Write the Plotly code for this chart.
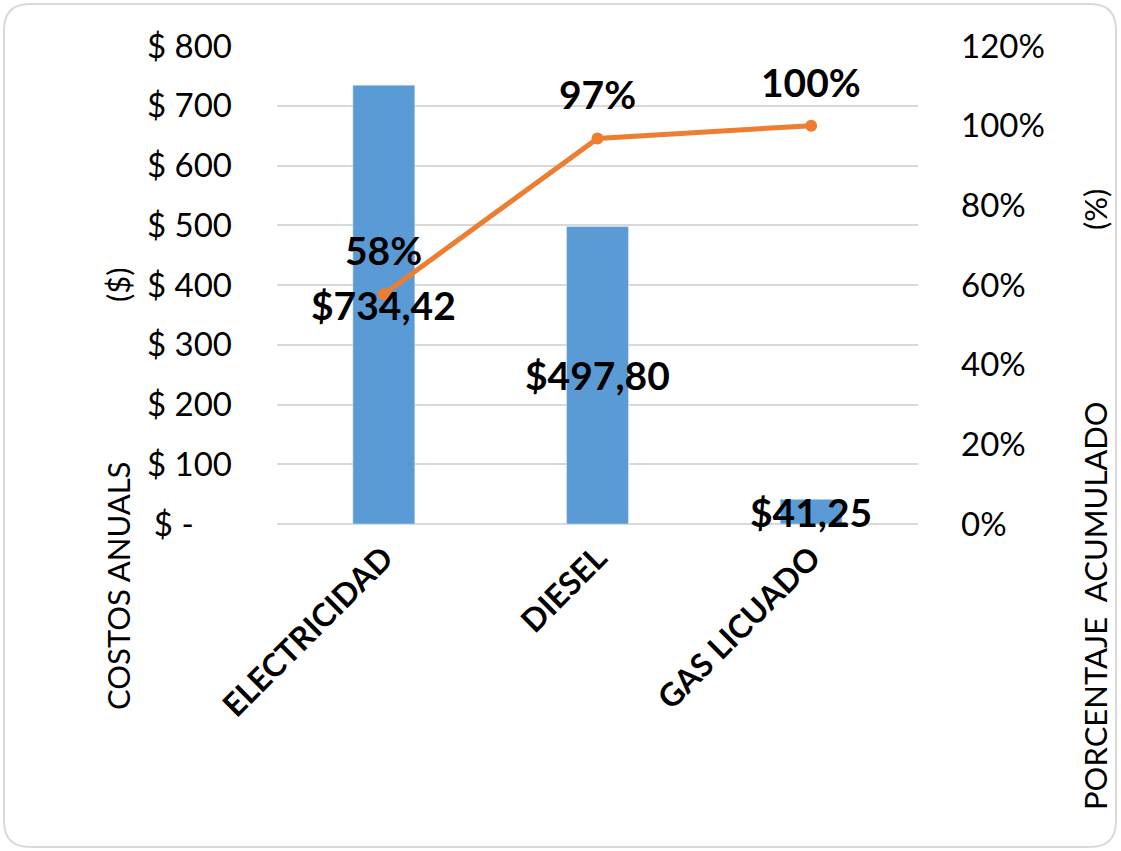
import plotly.graph_objects as go

# ---- data ----
categories = ["ELECTRICIDAD", "DIESEL", "GAS LICUADO"]
costs = [734.42, 497.80, 41.25]            # COSTOS ANUALES ($)
cum_pct = [57.7, 96.8, 100.0]              # porcentaje acumulado (%)
pct_labels = ["58%", "97%", "100%"]
left_tickvals = [0, 100, 200, 300, 400, 500, 600, 700, 800]
left_ticktext = ["$ -\u2007\u2007", "$ 100", "$ 200", "$ 300", "$ 400",
                 "$ 500", "$ 600", "$ 700", "$ 800"]
right_tickvals = [0, 20, 40, 60, 80, 100, 120]
right_ticktext = ["0%", "20%", "40%", "60%", "80%", "100%", "120%"]

BAR = "#5B9BD5"
LINE = "#ED7D31"
GRID = "#D9D9D9"
FONT = "Lato"

W, H = 1121, 851
L, R, T, B = 277, 203, 46, 327
PW, PH = W - L - R, H - T - B


def px(x):
    return (x - L) / PW


def py(y):
    return (H - B - y) / PH


fig = go.Figure()
fig.add_trace(go.Bar(x=categories, y=costs, marker_color=BAR, width=0.29,
                     name="Costos", yaxis="y"))
fig.add_trace(go.Scatter(x=categories, y=cum_pct, mode="lines+markers",
                         line=dict(color=LINE, width=5),
                         marker=dict(color=LINE, size=12),
                         name="% acumulado", yaxis="y2"))

annotations = []
for c, v in zip(categories, costs):
    annotations.append(dict(x=c, y=v / 2, xref="x", yref="y",
                            text=("$%.2f" % v).replace(".", ","),
                            showarrow=False,
                            font=dict(family=FONT, size=39, color="black",
                                      weight="bold")))
for c, p, t in zip(categories, cum_pct, pct_labels):
    annotations.append(dict(x=c, y=p, xref="x", yref="y2", text=t,
                            showarrow=False, yshift=44,
                            font=dict(family=FONT, size=39, color="black",
                                      weight="bold")))

title_font = dict(family=FONT, size=31, color="black")
for text, xx, yy in [("COSTOS ANUALS", 118, 586), ("($)", 118, 285),
                     ("PORCENTAJE\u00a0\u00a0ACUMULADO", 1095, 606),
                     ("(%)", 1095, 210)]:
    annotations.append(dict(x=px(xx), y=py(yy), xref="paper", yref="paper",
                            xanchor="center", yanchor="middle",
                            text=text, textangle=-90, showarrow=False,
                            font=title_font))

# rounded chart border
x0, x1, y0, y1, r = px(4), px(1116), py(847), py(4), 26
rx, ry = r / PW, r / PH
border = (f"M {x0+rx},{y1} L {x1-rx},{y1} Q {x1},{y1} {x1},{y1-ry} "
          f"L {x1},{y0+ry} Q {x1},{y0} {x1-rx},{y0} "
          f"L {x0+rx},{y0} Q {x0},{y0} {x0},{y0+ry} "
          f"L {x0},{y1-ry} Q {x0},{y1} {x0+rx},{y1} Z")

fig.update_layout(
    width=W, height=H,
    margin=dict(l=L, r=R, t=T, b=B, pad=0),
    paper_bgcolor="white", plot_bgcolor="white",
    showlegend=False,
    font=dict(family=FONT, color="black"),
    xaxis=dict(type="category", tickangle=-45, showgrid=False,
               showline=False, zeroline=False, ticks="",
               tickfont=dict(family=FONT, size=32, color="black",
                             weight="bold"),
               ticklabelstandoff=8),
    yaxis=dict(range=[0, 800], tickvals=left_tickvals,
               ticktext=left_ticktext, showgrid=True, gridcolor=GRID,
               gridwidth=1.5, zeroline=True, zerolinecolor=GRID,
               zerolinewidth=1.5, showline=False, ticks="",
               tickfont=dict(family=FONT, size=33, color="black"),
               ticklabelstandoff=44),
    yaxis2=dict(range=[0, 120], tickvals=right_tickvals,
                ticktext=right_ticktext, overlaying="y", side="right",
                showgrid=False, zeroline=False, showline=False, ticks="",
                tickfont=dict(family=FONT, size=33, color="black"),
                ticklabelstandoff=42),
    annotations=annotations,
    shapes=[dict(type="path", path=border, xref="paper", yref="paper",
                 line=dict(color=GRID, width=2), layer="below")],
)

fig.write_html("out.html")
